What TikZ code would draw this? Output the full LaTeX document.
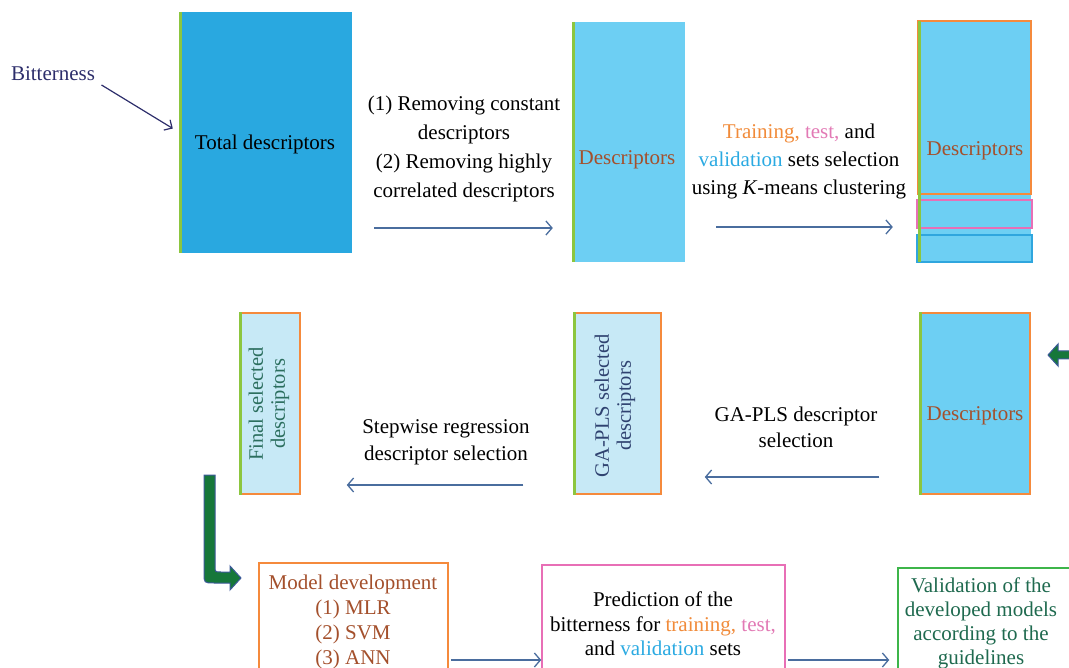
\documentclass[tikz,border=0pt]{standalone}
\usepackage{fontspec}
\setmainfont{Liberation Serif}
\usepackage{tikz}
\usetikzlibrary{arrows.meta}
\usetikzlibrary{positioning}
\usetikzlibrary{calc}

\definecolor{boxdark}{HTML}{29A8E0}
\definecolor{boxlight}{HTML}{6DCFF3}
\definecolor{boxpale}{HTML}{C7E9F6}
\definecolor{edgegreen}{HTML}{8CC63F}
\definecolor{bordorange}{HTML}{F58A3C}
\definecolor{bordpink}{HTML}{E86FB6}
\definecolor{bordblue}{HTML}{2FA6DE}
\definecolor{bordgreen}{HTML}{3DB54A}
\definecolor{txtbrown}{HTML}{A4502C}
\definecolor{txtnavy}{HTML}{2D2E6B}
\definecolor{txtslate}{HTML}{2F4270}
\definecolor{txtteal}{HTML}{2B6E5E}
\definecolor{txtgreen}{HTML}{1F6A4F}
\definecolor{flowblue}{HTML}{4A6D9E}
\definecolor{arrowgreen}{HTML}{16773A}
\definecolor{arrowedge}{HTML}{3B5998}
\definecolor{torange}{HTML}{F18B3A}
\definecolor{tpink}{HTML}{E27AB5}
\definecolor{tblue}{HTML}{2BAAE2}

\tikzset{
    flow/.style={draw=flowblue, line width=1.3pt, -{Straight Barb[length=6pt,width=14pt]}},
    pointer/.style={draw=txtnavy, line width=1.2pt, -{Straight Barb[length=6pt,width=12pt]}},
    solidbox/.style={fill=boxdark, inner sep=0pt},
    descbox/.style={fill=boxlight, inner sep=0pt},
    palebox/.style={fill=boxpale, draw=bordorange, line width=1.5pt, inner sep=0pt},
    greenedge/.style={draw=edgegreen, line width=3pt},
    outbox/.style={draw, line width=1.5pt, fill=white, inner sep=0pt},
    steptext/.style={align=center, inner sep=0pt},
    sidetext/.style={rotate=90, align=center, inner sep=0pt, font=\fontsize{20.5}{22}\selectfont},
    blockarrow/.style={fill=arrowgreen, draw=arrowedge, line width=1pt},
}

\begin{document}
\begin{tikzpicture}[x=1pt, y=-1pt, font=\fontsize{21}{29}\selectfont]
	\useasboundingbox (0,0) rectangle (1069,668);
	\clip (0,0) rectangle (1069,668);
	% first row
	\node[solidbox, minimum width=173pt, minimum height=241pt] (total) at (265.5,132.5) {};
	\node[descbox, minimum width=113pt, minimum height=240pt] (desc1) at (628.5,142) {};
	\node[descbox, minimum width=113pt, minimum height=241pt] (split) at (974.5,141.5) {};
	\draw[bordorange, line width=1.5pt] (918,21) rectangle (1031,194);
	\draw[bordpink, line width=1.5pt] (917,200) rectangle (1032,228);
	\draw[bordblue, line width=1.5pt] (917,235) rectangle (1032,262);
	\node (totaltxt) at (265,144) {Total descriptors};
	\node[text=txtbrown] (desc1txt) at (627,160) {Descriptors};
	\node[text=txtbrown] (splittxt) at (975,151) {Descriptors};
	\node[text=txtnavy] (bitter) at (53,74) {Bitterness};
	\draw[pointer] ([xshift=3pt,yshift=-11pt]bitter.east) -- ([xshift=-6pt,yshift=4pt]total.west);
	\node[steptext] (clean) at (464,149) {(1) Removing constant\\descriptors\\(2) Removing highly\\correlated descriptors};
	\node[steptext, font=\fontsize{21}{28}\selectfont] (kmeans) at (799,161)
		{\textcolor{torange}{Training,} \textcolor{tpink}{test,} and\\\textcolor{tblue}{validation} sets selection\\using \textit{K}-means clustering};
	\draw[flow, shorten <=22pt, shorten >=19pt] (total.east |- 0,228) -- (desc1.west |- 0,228);
	\draw[flow, shorten <=31pt, shorten >=25pt] (desc1.east |- 0,227) -- (split.west |- 0,227);
	% second row
	\node[descbox, draw=bordorange, line width=1.5pt, minimum width=110pt, minimum height=181pt] (desc2) at (975,403.5) {};
	\node[palebox, minimum width=87pt, minimum height=181pt] (gapls) at (617.5,403.5) {};
	\node[palebox, minimum width=60pt, minimum height=181pt] (final) at (270,403.5) {};
	\node[text=txtbrown] (desc2txt) at (975,416) {Descriptors};
	\node[sidetext, text=txtslate] (gaplstxt) at (615,406) {GA-PLS selected\\descriptors};
	\node[sidetext, text=txtteal] (finaltxt) at (269,404) {Final selected\\descriptors};
	\node[steptext, font=\fontsize{21}{26}\selectfont] (gasel) at (796,427) {GA-PLS descriptor\\selection};
	\node[steptext, font=\fontsize{21}{27}\selectfont] (stepsel) at (446,442) {Stepwise regression\\descriptor selection};
	\draw[flow, shorten <=40pt, shorten >=43pt] (desc2.west |- 0,477) -- (gapls.east |- 0,477);
	\draw[flow, shorten <=50pt, shorten >=46pt] (gapls.west |- 0,485) -- (final.east |- 0,485);
	\foreach \b in {total,desc1,split,desc2,gapls,final}
		\draw[greenedge] ([xshift=1.5pt]\b.north west) -- ([xshift=1.5pt]\b.south west);
	% block arrows
	\draw[blockarrow] (1048,355) -- (1058,344) -- (1058,351) -- (1075,351) -- (1075,359) -- (1058,359) -- (1058,366) -- cycle;
	\draw[blockarrow] (204,475) -- (215,475) -- (215,566) .. controls (215,572) .. (221,572) -- (230,572) -- (230,566)
		-- (241,578) -- (230,590) -- (230,583) -- (214,583) .. controls (204,583) .. (204,573) -- cycle;
	% third row
	\node[outbox, draw=bordorange, minimum width=189pt, minimum height=116pt] (model) at (353.5,621) {};
	\node[outbox, draw=bordpink, minimum width=243pt, minimum height=112pt] (pred) at (663.5,621) {};
	\node[outbox, draw=bordgreen, minimum width=190pt, minimum height=106pt] (valid) at (993,621) {};
	\node[steptext, text=txtbrown, font=\fontsize{21}{25}\selectfont] (modeltxt) at (353,622)
		{Model development\\(1) MLR\\(2) SVM\\(3) ANN};
	\node[steptext, font=\fontsize{21}{24.5}\selectfont] (predtxt) at (663,624)
		{Prediction of the\\bitterness for \textcolor{torange}{training,} \textcolor{tpink}{test,}\\and \textcolor{tblue}{validation} sets};
	\node[steptext, text=txtgreen, font=\fontsize{21}{24}\selectfont] (validtxt) at (981,623)
		{Validation of the\\developed models\\according to the\\guidelines};
	\draw[flow, shorten <=2pt] (model.east |- 0,660) -- (pred.west |- 0,660);
	\draw[flow, shorten <=2pt, shorten >=8pt] (pred.east |- 0,660) -- (valid.west |- 0,660);
\end{tikzpicture}
\end{document}
